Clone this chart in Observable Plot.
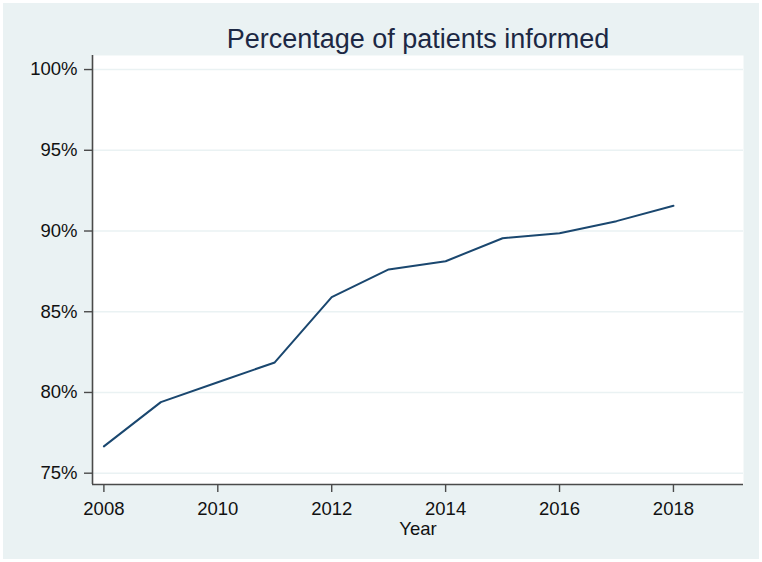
<!DOCTYPE html>
<html>
<head>
<meta charset="utf-8">
<script src="https://cdn.jsdelivr.net/npm/d3@7"></script>
<script src="https://cdn.jsdelivr.net/npm/@observablehq/plot@0.6"></script>
<style>
  html, body { margin: 0; padding: 0; background: #ffffff; overflow: hidden; }
  #chart { padding: 3px; width: 756px; height: 556px; }
  #chart svg { display: block; }
</style>
</head>
<body>
<div id="chart"></div>
<script>
const years = [2008, 2009, 2010, 2011, 2012, 2013, 2014, 2015, 2016, 2017, 2018];
const pct = [76.66, 79.40, 80.63, 81.86, 85.90, 87.62, 88.13, 89.55, 89.86, 90.61, 91.56];
const xTicks = [2008, 2010, 2012, 2014, 2016, 2018];
const yTicks = [75, 80, 85, 90, 95, 100];
const title = "Percentage of patients informed";
const xLabel = "Year";

const xDomain = [2007.80, 2019.23];
const yDomain = [74.30, 100.87];

const data = years.map((year, i) => ({year, value: pct[i]}));

const fontFamily = "Arial, 'Liberation Sans', Helvetica, sans-serif";
const axisColor = "#4a4a4a";

const chart = Plot.plot({
  width: 756,
  height: 556,
  marginLeft: 89,
  marginRight: 16,
  marginTop: 52,
  marginBottom: 75,
  style: {
    background: "#EAF2F3",
    fontFamily,
    fontSize: "18.5px",
    color: "#111111"
  },
  x: {domain: xDomain},
  y: {domain: yDomain},
  marks: [
    Plot.frame({fill: "white", stroke: null}),
    Plot.gridY(yTicks, {stroke: "#EAF2F3", strokeOpacity: 1, strokeWidth: 1.6}),
    Plot.ruleX([xDomain[0]], {stroke: axisColor, strokeWidth: 1.6}),
    Plot.ruleY([yDomain[0]], {stroke: axisColor, strokeWidth: 1.6}),
    Plot.axisY(yTicks, {
      tickSize: 8, tickPadding: 7, stroke: axisColor, strokeWidth: 1.4,
      fill: "#111111", tickFormat: d => d + "%", label: null
    }),
    Plot.axisX(xTicks, {
      tickSize: 8, tickPadding: 9, stroke: axisColor, strokeWidth: 1.4,
      fill: "#111111", tickFormat: d => String(d), label: null
    }),
    Plot.line(data, {x: "year", y: "value", stroke: "#1a476f", strokeWidth: 2}),
    Plot.text([title], {
      frameAnchor: "top", lineAnchor: "middle", dy: -16.5,
      fontSize: 27, fill: "#1c2844", fontFamily
    }),
    Plot.text([xLabel], {
      frameAnchor: "bottom", lineAnchor: "middle", dy: 44.5,
      fontSize: 18.5, fill: "#111111", fontFamily
    })
  ]
});

document.getElementById("chart").appendChild(chart);
</script>
</body>
</html>
